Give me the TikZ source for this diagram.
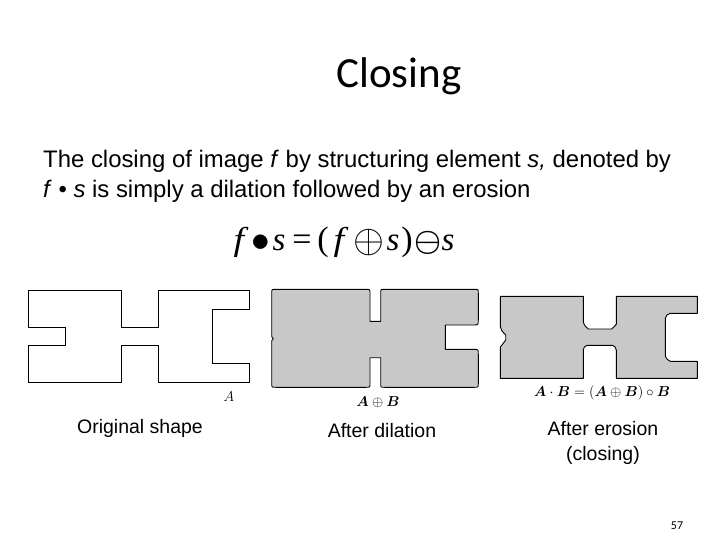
\documentclass[tikz,border=0pt]{standalone}
\usepackage{amsmath}
\usepackage{graphicx}
\usepackage{fontspec}
\setmainfont{Liberation Sans}
\newfontfamily\titlefont{Carlito}
\newfontfamily\serifit{Liberation Serif}
\definecolor{shapegray}{HTML}{C8C8C8}
\tikzset{
  outline/.style={draw=black,line width=0.9pt,line join=round},
  filled/.style={outline,fill=shapegray},
  caption/.style={font=\fontsize{19.5}{25}\selectfont,align=center,inner sep=0pt,anchor=center},
  bodyline/.style={inner sep=0pt,anchor=base west,font=\fontsize{23.9}{29}\selectfont},
  mathlabel/.style={inner sep=0pt,anchor=center},
  eqitem/.style={inner sep=0pt,anchor=base,font=\fontsize{33}{38}\selectfont\serifit\itshape},
  equpright/.style={inner sep=0pt,anchor=base,font=\fontsize{34}{38}\selectfont\serifit},
  eqsym/.style={inner sep=0pt,anchor=center,font=\fontsize{24.88}{28}\selectfont}
}
\begin{document}
\begin{tikzpicture}[x=1pt,y=-1pt]
\useasboundingbox (0,0) rectangle (720,540);
\node[inner sep=0pt] (title) at (399,76) {\titlefont\fontsize{43}{48}\selectfont Closing};
\node[bodyline] (body1) at (43,168) {The closing of image \textit{f} by structuring element \textit{s,} denoted by};
\node[bodyline] (body2) at (43,197) {\textit{f} • \textit{s} is simply a dilation followed by an erosion};
% formula
\node[eqitem] (e1) at (239,251) {\scalebox{1.15}[1]{f}};
\node[eqsym] (e2) at (260.7,243) {\scalebox{1.5}{$\bullet$}};
\node[eqitem] (e3) at (279,251) {s};
\node[equpright] (e4) at (302,251) {=};
\node[equpright] (e5) at (323,251) {(};
\node[eqitem] (e6) at (339,251) {\scalebox{1.15}[1]{f}};
\node[eqsym] (e7) at (369,243) {\scalebox{1.6}{$\oplus$}};
\node[eqitem] (e8) at (393,251) {s};
\node[equpright] (e9) at (407,251) {)};
\node[eqsym] (e10) at (428,243) {\scalebox{1.22}{$\boldsymbol{\ominus}$}};
\node[eqitem] (e11) at (448,251) {s};
% original
\draw[outline,line join=miter] (28.3,290.3) -- (121.7,290.3) -- (121.7,327.3) -- (158.3,327.3) -- (158.3,290.3) -- (249.3,290.3) -- (249.3,309.3) -- (212.3,309.3) -- (212.3,363.3) -- (249.3,363.3) -- (249.3,382.3) -- (158.3,382.3) -- (158.3,345.3) -- (121.7,345.3) -- (121.7,382.3) -- (28.3,382.3) -- (28.3,345.3) -- (65.3,345.3) -- (65.3,327.3) -- (28.3,327.3) -- cycle;
\node[mathlabel] (labA) at (229,397) {\fontsize{15}{17}\selectfont $A$};
\node[caption] (cap1) at (140,428) {Original shape};
% dilation
\draw[filled] (275.7,289.3) -- (366,289.3) .. controls (370,289.3) .. (370,293.3) -- (370,321.3) -- (380.7,321.3) -- (380.7,293.3) .. controls (380.7,289.3) .. (384.7,289.3)
  -- (474.3,289.3) .. controls (478.3,289.3) .. (478.3,293.3) -- (478.3,320) .. controls (478.3,325) .. (473.3,325) -- (445.3,325) -- (445.3,349.3) -- (473.3,349.3) .. controls (478.3,349.3) .. (478.3,354.3)
  -- (478.3,383.3) .. controls (478.3,387.3) .. (474.3,387.3) -- (384.7,387.3) .. controls (380.7,387.3) .. (380.7,383.3) -- (380.7,357.7) -- (370,357.7) -- (370,383.3) .. controls (370,387.3) .. (366,387.3)
  -- (275.7,387.3) .. controls (271.7,387.3) .. (271.7,383.3) -- (271.7,340.7) -- (273.3,338.7) -- (271.7,336.7) -- (271.7,293.3) .. controls (271.7,289.3) .. (275.7,289.3) -- cycle;
\node[mathlabel] (labB) at (378,402) {\fontsize{14.5}{16}\selectfont $\boldsymbol{A}\oplus\boldsymbol{B}$};
\node[caption] (cap2) at (382,431) {After dilation};
% closing
\draw[filled] (500.3,296.3) -- (583.3,296.3) -- (583.3,321) .. controls (584,325) .. (588.3,329) -- (611.7,329) -- (616.3,324.3) -- (616.3,296.3) -- (697.3,296.3) -- (697.3,313.3) -- (670.3,313.3) .. controls (667,314.5) .. (665.3,318.3) -- (665.3,356) .. controls (667,359.5) .. (670.3,361.3) -- (697.3,361.3) -- (697.3,378.3) -- (616.3,378.3) -- (616.3,350) .. controls (615.5,347) .. (612.3,345.3) -- (587.3,345.3) .. controls (584,347) .. (583.3,350) -- (583.3,378.3) -- (500.3,378.3) -- (500.3,347) -- (502,345) -- (505.7,340) -- (505.7,335) -- (502,331) -- (500.3,326.7) -- cycle;
\node[mathlabel] (labC) at (602,393) {\fontsize{14}{16}\selectfont $\boldsymbol{A}\cdot\boldsymbol{B}=(\boldsymbol{A}\oplus\boldsymbol{B})\circ\boldsymbol{B}$};
\node[caption] (cap3) at (603,442.5) {After erosion\\(closing)};
\node[inner sep=0pt] (page) at (677,526) {\titlefont\fontsize{12}{14}\selectfont 57};
\end{tikzpicture}
\end{document}
